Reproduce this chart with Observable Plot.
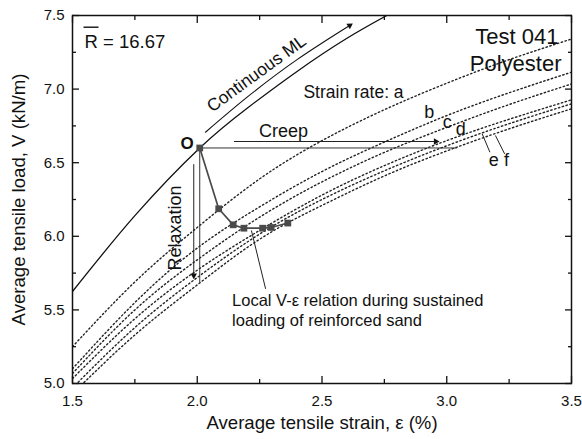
<!DOCTYPE html>
<html><head><meta charset="utf-8">
<script src="https://cdn.jsdelivr.net/npm/d3@7"></script>
<script src="https://cdn.jsdelivr.net/npm/@observablehq/plot@0.6"></script>
<style>html,body{margin:0;padding:0;background:#fff} svg{display:block}</style>
</head><body><div id="chart"></div>
<script>
// ---- data ----
const strainGrid = [1.5, 1.75, 2.0, 2.25, 2.5, 2.75, 3.0, 3.25, 3.5];
const rateA = [5.25, 5.69, 6.06, 6.39, 6.65, 6.86, 7.04, 7.20, 7.34];
const rateB = [5.10, 5.55, 5.92, 6.20, 6.44, 6.64, 6.82, 6.975, 7.115];
const rateC = [5.068, 5.50, 5.84, 6.13, 6.37, 6.57, 6.74, 6.895, 7.035];
const rateD = [5.034, 5.44, 5.77, 6.04, 6.28, 6.48, 6.65, 6.795, 6.927];
const rateE = [4.97, 5.38, 5.72, 6.015, 6.25, 6.445, 6.615, 6.765, 6.90];
const rateF = [4.93, 5.33, 5.67, 5.98, 6.21, 6.41, 6.58, 6.73, 6.866];

const mlStrain = [1.5, 1.75, 2.01, 2.2, 2.4, 2.6, 2.76];
const mlLoad   = [5.625, 6.14, 6.6, 6.87, 7.12, 7.345, 7.5];

const localStrain = [2.01, 2.086, 2.144, 2.187, 2.262, 2.296, 2.363];
const localLoad   = [6.6, 6.187, 6.078, 6.055, 6.055, 6.06, 6.09];

// annotation geometry (data units)
const mlArrowStrain = [2.033, 2.2, 2.4, 2.611];
const mlArrowLoad   = [6.707, 6.945, 7.2, 7.432];
const segments = [
  {x1: 2.01,  y1: 6.6,   x2: 3.04,  y2: 6.6,   w: 1.0, c: "#333"},   // line through O
  {x1: 2.147, y1: 6.644, x2: 2.950, y2: 6.644, w: 1.0, c: "#222"},   // creep arrow
  {x1: 1.986, y1: 6.49,  x2: 1.986, y2: 5.745, w: 1.0, c: "#222"},   // relaxation arrow
  {x1: 2.01,  y1: 6.6,   x2: 2.01,  y2: 5.688, w: 1.0, c: "#333"},   // vertical through O
  {x1: 3.142, y1: 6.696, x2: 3.173, y2: 6.571, w: 1.0, c: "#222"},   // e leader
  {x1: 3.195, y1: 6.685, x2: 3.232, y2: 6.56,  w: 1.0, c: "#222"},   // f leader
  {x1: 2.217, y1: 6.04,  x2: 2.274, y2: 5.643, w: 1.0, c: "#222"},   // local leader
  {x1: 1.5441,y1: 7.4205,x2: 1.6042,y2: 7.4205,w: 1.4, c: "#111"}    // R bar
];
const heads = [
  {x: 2.956, y: 6.644, rot: 90},
  {x: 1.986, y: 5.734, rot: 180},
  {x: 2.611, y: 7.432, rot: 57}
];
const labels = [
  {x: 1.9589, y: 6.631, t: "O", s: 17, w: "bold", a: "middle", r: 0},
  {x: 2.3457, y: 6.715, t: "Creep", s: 18, w: "normal", a: "middle", r: 0},
  {x: 2.2375, y: 7.106, t: "Continuous ML", s: 17.5, w: "normal", a: "middle", r: -36},
  {x: 1.9128, y: 6.056, t: "Relaxation", s: 18, w: "normal", a: "middle", r: -90},
  {x: 2.6263, y: 6.977, t: "Strain rate: a", s: 17.5, w: "normal", a: "middle", r: 0},
  {x: 2.930,  y: 6.846, t: "b", s: 18, w: "normal", a: "middle", r: 0},
  {x: 3.0018, y: 6.775, t: "c", s: 18, w: "normal", a: "middle", r: 0},
  {x: 3.0563, y: 6.727, t: "d", s: 18, w: "normal", a: "middle", r: 0},
  {x: 3.1886, y: 6.520, t: "e", s: 18, w: "normal", a: "middle", r: 0},
  {x: 3.2395, y: 6.517, t: "f", s: 18, w: "normal", a: "middle", r: 0},
  {x: 3.448,  y: 7.357, t: "Test 041", s: 22, w: "normal", a: "end", r: 0},
  {x: 3.46,   y: 7.171, t: "Polyester", s: 22, w: "normal", a: "end", r: 0},
  {x: 1.548,  y: 7.319, t: "R = 16.67", s: 18.5, w: "normal", a: "start", r: 0},
  {x: 2.1395, y: 5.5639, t: "Local V-\u03b5 relation during sustained", s: 16.5, w: "normal", a: "start", r: 0},
  {x: 2.1395, y: 5.428, t: "loading of reinforced sand", s: 16.5, w: "normal", a: "start", r: 0}
];
const xMajor = [1.5, 2.0, 2.5, 3.0, 3.5];
const xMinor = [1.75, 2.25, 2.75, 3.25];
const yMajor = [5.0, 5.5, 6.0, 6.5, 7.0, 7.5];
const yMinor = [5.25, 5.75, 6.25, 6.75, 7.25];
const xTitle = "Average tensile strain, \u03b5 (%)";
const yTitle = "Average tensile load, V (kN/m)";

// ---- tables ----
const rateSeries = {a: rateA, b: rateB, c: rateC, d: rateD, e: rateE, f: rateF};
const rateRows = Object.entries(rateSeries).flatMap(([k, arr]) =>
  arr.map((v, i) => ({rate: k, strain: strainGrid[i], load: v})));
const mlRows = mlStrain.map((s, i) => ({strain: s, load: mlLoad[i]}));
const mlArrowRows = mlArrowStrain.map((s, i) => ({strain: s, load: mlArrowLoad[i]}));
const localRows = localStrain.map((s, i) => ({strain: s, load: localLoad[i]}));

const fmt = d3.format(".1f");
const tickMarks = [];
for (const anchor of ["bottom", "top"]) {
  tickMarks.push(Plot.axisX(xMajor, {anchor, tickSize: -7, tickFormat: () => "", label: null, strokeWidth: 1.3}));
  tickMarks.push(Plot.axisX(xMinor, {anchor, tickSize: -4, tickFormat: () => "", label: null, strokeWidth: 1.3}));
}
for (const anchor of ["left", "right"]) {
  tickMarks.push(Plot.axisY(yMajor, {anchor, tickSize: -7, tickFormat: () => "", label: null, strokeWidth: 1.3}));
  tickMarks.push(Plot.axisY(yMinor, {anchor, tickSize: -4, tickFormat: () => "", label: null, strokeWidth: 1.3}));
}

const chart = Plot.plot({
  width: 582, height: 439,
  marginLeft: 72, marginRight: 11, marginTop: 15, marginBottom: 56,
  x: {domain: [1.5, 3.5]},
  y: {domain: [5, 7.5]},
  style: {fontFamily: "'Liberation Sans', Arial, sans-serif", fontSize: "15px", color: "#111", background: "#fff"},
  marks: [
    Plot.line(rateRows, {x: "strain", y: "load", z: "rate", curve: "natural", stroke: "#222",
      strokeWidth: 1.4, strokeDasharray: "1.4,2.6", clip: true}),
    Plot.line(mlRows, {x: "strain", y: "load", curve: "natural", stroke: "#111", strokeWidth: 1.3, clip: true}),
    Plot.line(mlArrowRows, {x: "strain", y: "load", curve: "natural", stroke: "#111", strokeWidth: 1.1}),
    Plot.link(segments, {x1: "x1", y1: "y1", x2: "x2", y2: "y2", stroke: "c", strokeWidth: "w"}),
    Plot.dot(heads, {x: "x", y: "y", rotate: "rot", symbol: "triangle", r: 2.4, fill: "#111", stroke: "none"}),
    Plot.line(localRows, {x: "strain", y: "load", stroke: "#4a4a4a", strokeWidth: 1.7}),
    Plot.dot(localRows, {x: "strain", y: "load", symbol: "square", r: 3.8, fill: "#4a4a4a", stroke: "none"}),
    ...labels.map(l => Plot.text([l], {x: "x", y: "y", text: "t", fontSize: l.s, fontWeight: l.w,
      textAnchor: l.a, rotate: l.r, fill: "#111"})),
    Plot.frame({stroke: "#111", strokeWidth: 1.5}),
    ...tickMarks,
    Plot.axisX(xMajor, {anchor: "bottom", tickSize: 0, tickPadding: 12, tickFormat: fmt, fontSize: 15, label: null}),
    Plot.axisY(yMajor, {anchor: "left", tickSize: 0, tickPadding: 8, tickFormat: fmt, fontSize: 15, label: null}),
    Plot.text([xTitle], {frameAnchor: "bottom", textAnchor: "middle", lineAnchor: "middle", dy: 40, fontSize: 18.6, fill: "#111"}),
    Plot.text([yTitle], {frameAnchor: "left", textAnchor: "middle", lineAnchor: "middle", dx: -53.5, rotate: -90, fontSize: 18.6, fill: "#111"})
  ]
});
document.getElementById("chart").appendChild(chart);
</script>
</body></html>
